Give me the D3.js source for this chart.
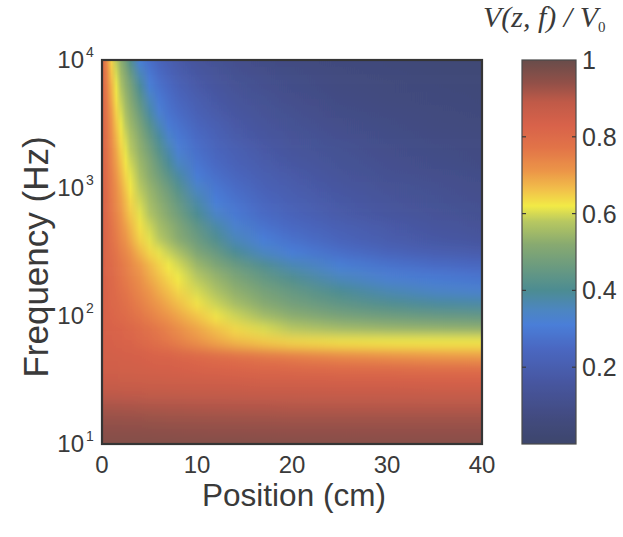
<!DOCTYPE html>
<html>
<head>
<meta charset="utf-8">
<script src="https://cdn.jsdelivr.net/npm/d3@7"></script>
<style>
  html, body { margin: 0; padding: 0; background: #ffffff; }
  svg { display: block; }
  text { font-family: "Liberation Sans", Arial, sans-serif; fill: #3a3a3a; }
</style>
</head>
<body>
<svg id="chart" width="623" height="537"></svg>
<script>
// ---------------- data ----------------
// positions along the cable (cm) at which each frequency row was read
const positions = [0, 0.5, 1, 1.5, 2, 2.5, 3, 4, 5, 6, 7, 8, 10, 12, 14, 17, 20, 25, 30, 35, 40];
// log10 of frequency (Hz) for each row, bottom (10 Hz) to top (10 kHz)
const logFrequencies = [1.0, 1.1, 1.2, 1.3, 1.4, 1.5, 1.6, 1.7, 1.8, 1.9, 2.0, 2.1, 2.2, 2.3, 2.4, 2.5,
                        2.6, 2.7, 2.8, 2.9, 3.0, 3.1, 3.2, 3.3, 3.4, 3.5, 3.6, 3.7, 3.8, 3.9, 4.0];
// V(z,f)/V0, one row per frequency, one value per position
const voltageRows = [
  [0.96,0.96,0.96,0.96,0.96,0.96,0.96,0.96,0.96,0.96,0.96,0.96,0.96,0.96,0.96,0.958,0.957,0.956,0.955,0.955,0.955],
  [0.95,0.95,0.95,0.95,0.95,0.95,0.95,0.95,0.95,0.949,0.948,0.947,0.946,0.945,0.944,0.943,0.942,0.941,0.94,0.94,0.94],
  [0.935,0.935,0.935,0.935,0.935,0.934,0.934,0.933,0.932,0.931,0.93,0.93,0.929,0.928,0.927,0.926,0.925,0.925,0.925,0.925,0.925],
  [0.915,0.915,0.915,0.914,0.914,0.913,0.913,0.912,0.911,0.91,0.909,0.908,0.906,0.905,0.904,0.903,0.902,0.901,0.9,0.9,0.9],
  [0.89,0.89,0.89,0.889,0.889,0.888,0.888,0.887,0.886,0.885,0.884,0.883,0.881,0.879,0.878,0.876,0.875,0.873,0.872,0.871,0.87],
  [0.865,0.865,0.864,0.864,0.863,0.863,0.862,0.861,0.86,0.859,0.858,0.857,0.855,0.852,0.85,0.847,0.845,0.842,0.84,0.838,0.836],
  [0.85,0.85,0.849,0.849,0.848,0.848,0.847,0.845,0.843,0.841,0.839,0.836,0.831,0.825,0.82,0.812,0.805,0.797,0.792,0.788,0.785],
  [0.845,0.845,0.844,0.843,0.842,0.841,0.84,0.835,0.831,0.827,0.822,0.816,0.803,0.79,0.778,0.762,0.748,0.73,0.715,0.705,0.70],
  [0.84,0.838,0.836,0.833,0.83,0.826,0.822,0.81,0.795,0.78,0.765,0.75,0.72,0.695,0.675,0.655,0.64,0.628,0.622,0.62,0.62],
  [0.835,0.833,0.83,0.826,0.822,0.817,0.812,0.797,0.78,0.763,0.745,0.728,0.695,0.665,0.638,0.605,0.58,0.555,0.542,0.535,0.53],
  [0.835,0.828,0.82,0.812,0.803,0.795,0.786,0.768,0.75,0.731,0.713,0.695,0.66,0.625,0.595,0.555,0.525,0.49,0.47,0.457,0.45],
  [0.835,0.826,0.815,0.805,0.793,0.782,0.77,0.75,0.728,0.707,0.686,0.666,0.627,0.592,0.558,0.515,0.48,0.44,0.41,0.39,0.38],
  [0.835,0.823,0.81,0.797,0.783,0.77,0.757,0.735,0.71,0.685,0.662,0.64,0.60,0.565,0.53,0.485,0.45,0.40,0.365,0.34,0.325],
  [0.835,0.82,0.805,0.79,0.77,0.757,0.745,0.72,0.69,0.665,0.64,0.62,0.58,0.54,0.50,0.45,0.41,0.355,0.32,0.298,0.285],
  [0.835,0.815,0.80,0.78,0.765,0.75,0.735,0.705,0.675,0.645,0.62,0.60,0.545,0.50,0.46,0.41,0.365,0.315,0.28,0.258,0.245],
  [0.835,0.81,0.79,0.77,0.75,0.735,0.715,0.675,0.64,0.613,0.59,0.565,0.50,0.455,0.40,0.35,0.31,0.265,0.23,0.205,0.19],
  [0.835,0.81,0.78,0.76,0.735,0.715,0.69,0.645,0.61,0.58,0.55,0.52,0.465,0.41,0.36,0.31,0.275,0.23,0.195,0.17,0.155],
  [0.835,0.805,0.775,0.75,0.725,0.70,0.675,0.63,0.595,0.56,0.535,0.505,0.44,0.38,0.33,0.28,0.25,0.21,0.18,0.155,0.137],
  [0.835,0.80,0.765,0.74,0.71,0.68,0.655,0.61,0.57,0.54,0.51,0.475,0.40,0.34,0.295,0.255,0.225,0.185,0.158,0.137,0.122],
  [0.835,0.80,0.76,0.73,0.70,0.67,0.64,0.595,0.555,0.525,0.49,0.45,0.375,0.31,0.28,0.24,0.21,0.173,0.145,0.127,0.112],
  [0.835,0.795,0.755,0.725,0.69,0.655,0.625,0.58,0.54,0.505,0.465,0.42,0.345,0.29,0.26,0.22,0.195,0.16,0.133,0.117,0.10],
  [0.83,0.79,0.75,0.71,0.675,0.64,0.61,0.56,0.52,0.475,0.43,0.385,0.305,0.27,0.24,0.205,0.18,0.143,0.122,0.107,0.094],
  [0.83,0.785,0.74,0.70,0.66,0.625,0.595,0.545,0.505,0.45,0.395,0.35,0.285,0.25,0.22,0.19,0.163,0.132,0.112,0.095,0.082],
  [0.83,0.78,0.735,0.69,0.645,0.61,0.58,0.53,0.48,0.42,0.37,0.32,0.27,0.235,0.21,0.175,0.15,0.124,0.102,0.086,0.075],
  [0.83,0.775,0.725,0.675,0.632,0.597,0.565,0.515,0.452,0.39,0.338,0.295,0.255,0.22,0.19,0.16,0.137,0.114,0.093,0.078,0.07],
  [0.83,0.77,0.715,0.66,0.615,0.58,0.545,0.49,0.42,0.36,0.30,0.278,0.235,0.205,0.177,0.145,0.127,0.102,0.083,0.07,0.063],
  [0.83,0.765,0.705,0.645,0.60,0.56,0.53,0.46,0.38,0.32,0.28,0.257,0.215,0.185,0.16,0.133,0.116,0.09,0.075,0.065,0.057],
  [0.83,0.76,0.69,0.63,0.585,0.545,0.51,0.43,0.355,0.295,0.265,0.24,0.20,0.17,0.145,0.124,0.105,0.082,0.068,0.06,0.05],
  [0.83,0.75,0.68,0.615,0.565,0.528,0.49,0.395,0.315,0.275,0.25,0.22,0.18,0.155,0.133,0.113,0.094,0.074,0.063,0.053,0.045],
  [0.83,0.745,0.66,0.60,0.545,0.51,0.455,0.36,0.29,0.255,0.225,0.20,0.165,0.14,0.122,0.10,0.083,0.067,0.057,0.046,0.039],
  [0.83,0.73,0.645,0.58,0.525,0.475,0.41,0.31,0.265,0.23,0.205,0.18,0.145,0.125,0.11,0.087,0.073,0.06,0.048,0.04,0.032]
];
const xTicks = [0, 10, 20, 30, 40];
const yTickExponents = [1, 2, 3, 4];
const colorbarTicks = [0.2, 0.4, 0.6, 0.8, 1];
// colour map
const cmapValues = [0.00, 0.07, 0.16, 0.25, 0.31, 0.35, 0.40, 0.46, 0.52, 0.58, 0.62, 0.66, 0.71, 0.77, 0.83, 0.89, 0.94, 1.00];
const cmapColors = ["#3d466c", "#424b80", "#4756a0", "#4a68c2", "#4a7ed8", "#4c86c0", "#4c8c92", "#6a9a80", "#88aa70",
                    "#b8c860", "#f2ea46", "#f2c24a", "#ec9648", "#e27448", "#d8624a", "#c05a48", "#925048", "#684c4a"];

// ---------------- layout ----------------
const plot = { left: 102, right: 482, top: 60, bottom: 444 };
const cbar = { left: 522, right: 576, top: 60, bottom: 444 };

const svg = d3.select("#chart");
const defs = svg.append("defs");

const x = d3.scaleLinear().domain([0, 40]).range([plot.left, plot.right]);
const y = d3.scaleLog().domain([10, 10000]).range([plot.bottom, plot.top]);
const color = d3.scaleLinear().domain(cmapValues).range(cmapColors).interpolate(d3.interpolateRgb).clamp(true);
const cy = d3.scaleLinear().domain([0, 1]).range([cbar.bottom, cbar.top]);

// ---------------- heat map ----------------
defs.append("clipPath").attr("id", "plotClip")
  .append("rect").attr("x", plot.left).attr("y", plot.top)
  .attr("width", plot.right - plot.left).attr("height", plot.bottom - plot.top);

const blur = defs.append("filter").attr("id", "vblur")
  .attr("filterUnits", "userSpaceOnUse")
  .attr("x", plot.left - 5).attr("y", plot.top - 40)
  .attr("width", plot.right - plot.left + 10).attr("height", plot.bottom - plot.top + 80);
blur.append("feGaussianBlur").attr("stdDeviation", "0.6 5.5");

voltageRows.forEach((row, i) => {
  const g = defs.append("linearGradient").attr("id", "row" + i)
    .attr("x1", "0").attr("x2", "1").attr("y1", "0").attr("y2", "0");
  row.forEach((v, j) => {
    g.append("stop")
      .attr("offset", (x(positions[j]) - plot.left) / (plot.right - plot.left))
      .attr("stop-color", color(v));
  });
});

const heat = svg.append("g").attr("clip-path", "url(#plotClip)")
  .append("g").attr("filter", "url(#vblur)");

const step = 0.1;
heat.selectAll("rect").data(logFrequencies).join("rect")
  .attr("x", plot.left)
  .attr("width", plot.right - plot.left)
  .attr("y", (d, i) => {
    const top = y(Math.pow(10, d + step / 2));
    return i === logFrequencies.length - 1 ? top - 30 : top;
  })
  .attr("height", (d, i) => {
    let top = y(Math.pow(10, d + step / 2));
    let bot = y(Math.pow(10, d - step / 2));
    if (i === logFrequencies.length - 1) top -= 30;
    if (i === 0) bot += 30;
    return bot - top + 0.6;
  })
  .attr("fill", (d, i) => `url(#row${i})`);

// plot frame
svg.append("rect")
  .attr("x", plot.left).attr("y", plot.top)
  .attr("width", plot.right - plot.left).attr("height", plot.bottom - plot.top)
  .attr("fill", "none").attr("stroke", "#353535").attr("stroke-width", 2.2);

// x tick labels
svg.append("g").selectAll("text").data(xTicks).join("text")
  .attr("x", d => x(d)).attr("y", 472.5)
  .attr("text-anchor", "middle")
  .style("font-size", "24px")
  .text(d => d);

// y tick labels 10^n
const yl = svg.append("g").selectAll("g").data(yTickExponents).join("g")
  .attr("transform", d => `translate(84, ${y(Math.pow(10, d)) + 8})`);
yl.append("text").attr("text-anchor", "end").style("font-size", "24px").text("10");
yl.append("text").attr("x", 2).attr("y", -11).style("font-size", "14px").text(d => d);

// axis titles
svg.append("text")
  .attr("x", (plot.left + plot.right) / 2 + 2).attr("y", 506)
  .attr("text-anchor", "middle").style("font-size", "31.5px")
  .text("Position (cm)");
svg.append("text")
  .attr("transform", `translate(48, ${(plot.top + plot.bottom) / 2 + 5}) rotate(-90)`)
  .attr("text-anchor", "middle").style("font-size", "35px")
  .text("Frequency (Hz)");

// ---------------- colour bar ----------------
const cg = defs.append("linearGradient").attr("id", "cbarGrad")
  .attr("x1", "0").attr("x2", "0").attr("y1", "1").attr("y2", "0");
d3.range(0, 1.0001, 0.01).forEach(v => {
  cg.append("stop").attr("offset", v).attr("stop-color", color(v));
});
svg.append("rect")
  .attr("x", cbar.left).attr("y", cbar.top)
  .attr("width", cbar.right - cbar.left).attr("height", cbar.bottom - cbar.top)
  .attr("fill", "url(#cbarGrad)")
  .attr("stroke", "#4a4a4a").attr("stroke-width", 1.2);

const cbTicks = svg.append("g").selectAll("g").data(colorbarTicks.filter(d => d < 1)).join("g");
cbTicks.append("line")
  .attr("x1", cbar.left).attr("x2", cbar.left + 4)
  .attr("y1", d => cy(d)).attr("y2", d => cy(d))
  .attr("stroke", "#3a3a3a").attr("stroke-width", 1.2);
cbTicks.append("line")
  .attr("x1", cbar.right - 4).attr("x2", cbar.right)
  .attr("y1", d => cy(d)).attr("y2", d => cy(d))
  .attr("stroke", "#3a3a3a").attr("stroke-width", 1.2);

svg.append("g").selectAll("text").data(colorbarTicks).join("text")
  .attr("x", cbar.right + 6).attr("y", d => cy(d) + 9)
  .style("font-size", "25px")
  .text(d => d === 1 ? "1" : d.toFixed(1));

// colour bar title
const title = svg.append("text")
  .attr("x", 483).attr("y", 27)
  .style("font-family", "'Liberation Serif', 'Times New Roman', serif")
  .style("font-style", "italic")
  .style("font-size", "30px");
title.append("tspan").text("V(z, f) / V");
title.append("tspan").attr("dy", 5).style("font-size", "15px").style("font-style", "normal").text("0");
</script>
</body>
</html>
